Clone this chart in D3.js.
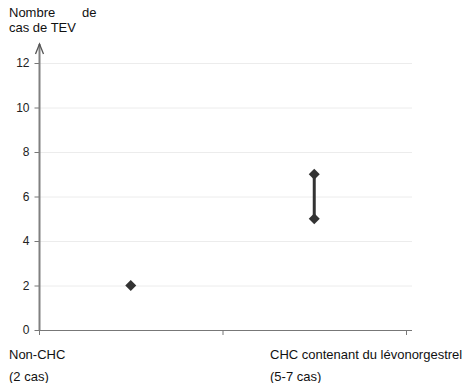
<!DOCTYPE html>
<html><head><meta charset="utf-8">
<script src="https://cdn.jsdelivr.net/npm/d3@7"></script>
<style>body{margin:0;background:#fff;} svg{display:block;font-family:"Liberation Sans",Arial,sans-serif;}</style>
</head><body>
<script>
const categories = ["Non-CHC", "CHC contenant du lévonorgestrel"];
const subLabels = ["(2 cas)", "(5-7 cas)"];
const lowValues = [2, 5];
const highValues = [2, 7];
const yTicks = [0, 2, 4, 6, 8, 10, 12];
const xTicks = [0, 1, 2];

const W = 469, H = 383;
const svg = d3.select("body").append("svg").attr("width", W).attr("height", H);

const x = d3.scaleLinear().domain([0, 2]).range([39, 406]);
const y = d3.scaleLinear().domain([0, 12]).range([330, 63]);
const xEnd = 412;

// gridlines
svg.append("g").selectAll("line").data(yTicks.filter(d => d > 0)).join("line")
  .attr("x1", x(0)).attr("x2", xEnd)
  .attr("y1", d => y(d) + 0.5).attr("y2", d => y(d) + 0.5)
  .attr("stroke", "#ececec").attr("stroke-width", 1);

// y axis
const yAxis = svg.append("g").attr("transform", `translate(${x(0)+0.5},0)`)
  .call(d3.axisLeft(y).tickValues(yTicks).tickSize(5).tickPadding(5));
yAxis.select(".domain").remove();
yAxis.selectAll(".tick line").attr("stroke", "#777");
yAxis.selectAll(".tick text").attr("fill", "#222").style("font-size", "12px").style("font-family", "Liberation Sans, Arial, sans-serif");
svg.append("line").attr("x1", x(0)+0.5).attr("x2", x(0)+0.5).attr("y1", y(0)).attr("y2", 44)
  .attr("stroke", "#808080").attr("stroke-width", 2);
svg.append("path").attr("d", `M${x(0)+0.5-4},${54} L${x(0)+0.5},${44} L${x(0)+0.5+4},${54}`)
  .attr("fill", "none").attr("stroke", "#555").attr("stroke-width", 1.3);

// x axis
svg.append("line").attr("x1", x(0)).attr("x2", xEnd).attr("y1", y(0)+0.5).attr("y2", y(0)+0.5)
  .attr("stroke", "#777");
svg.append("g").selectAll("line").data(xTicks).join("line")
  .attr("x1", d => x(d)+0.5).attr("x2", d => x(d)+0.5)
  .attr("y1", y(0)).attr("y2", y(0)+5).attr("stroke", "#777");

// range lines
const idx = d3.range(categories.length);
svg.append("g").selectAll("line").data(idx.filter(i => highValues[i] > lowValues[i])).join("line")
  .attr("x1", i => x(i + 0.5)).attr("x2", i => x(i + 0.5))
  .attr("y1", i => y(lowValues[i])).attr("y2", i => y(highValues[i]))
  .attr("stroke", "#333").attr("stroke-width", 3);

// diamonds
const pts = [];
idx.forEach(i => { pts.push([i, lowValues[i]]); if (highValues[i] !== lowValues[i]) pts.push([i, highValues[i]]); });
const s = 5.5;
svg.append("g").selectAll("path").data(pts).join("path")
  .attr("d", d => { const cx = x(d[0] + 0.5), cy = y(d[1]); return `M${cx},${cy-s}L${cx+s},${cy}L${cx},${cy+s}L${cx-s},${cy}Z`; })
  .attr("fill", "#333");

// title
const title = svg.append("g").attr("fill", "#111").style("font-size", "13px");
title.append("text").attr("x", 9).attr("y", 17).text("Nombre");
title.append("text").attr("x", 82).attr("y", 17).text("de");
title.append("text").attr("x", 9).attr("y", 32).text("cas de TEV");

// category labels
const labX = [9, 270];
const lab = svg.append("g").attr("fill", "#111").style("font-size", "13px");
lab.selectAll("text.c").data(categories).join("text").attr("class", "c")
  .attr("x", (d, i) => labX[i]).attr("y", 359).text(d => d);
lab.selectAll("text.s").data(subLabels).join("text").attr("class", "s")
  .attr("x", (d, i) => labX[i]).attr("y", 381).text(d => d);
</script>
</body></html>
